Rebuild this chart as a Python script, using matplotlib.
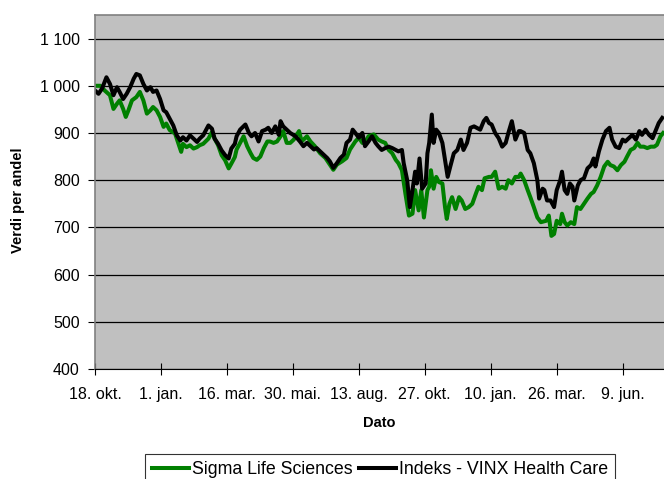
import pandas as pd
import matplotlib
matplotlib.use('Agg')
import matplotlib.pyplot as plt

plt.rcParams['font.family'] = ['Liberation Sans', 'DejaVu Sans']

# days counted from 18. okt. 2007
start = pd.Timestamp('2007-10-18')

sigma_days = [0, 6, 11, 17, 21, 25, 28, 32, 35, 38, 42, 47, 51, 55, 59, 63, 66, 70, 74, 78,
              81, 85, 91, 95, 98, 100, 104, 108, 112, 116, 119, 123, 129, 133, 136, 140, 144, 148, 152, 155,
              159, 161, 165, 169, 173, 177, 180, 184, 188, 192, 196, 199, 203, 207, 211, 214, 218, 222, 226, 232,
              235, 241, 245, 250, 256, 262, 267, 271, 275, 281, 286, 290, 296, 300, 304, 307, 311, 317, 322,
              326, 330, 334, 338, 342, 345, 349, 353, 357, 361, 364, 368, 371, 374, 378, 380, 382, 385, 388, 391,
              395, 398, 400, 403, 406, 410, 414, 417, 421, 425, 429, 433, 436, 440, 443, 448, 451, 455, 459, 463,
              467, 470, 474, 478, 482, 484, 488, 492, 495, 499, 503, 507, 513, 516, 519, 522, 525, 529, 531, 534,
              537, 541, 545, 548, 552, 556, 560, 564, 567, 571, 575, 579, 583, 586, 590, 594, 598, 602, 605, 609,
              613, 617, 620, 624, 628, 632, 636, 639, 643, 646]
sigma_vals = [1000, 1000, 990, 980, 951, 962, 969, 951, 934, 948, 969, 976, 987, 969, 941, 948, 955, 948, 934, 913,
              920, 906, 899, 877, 860, 877, 870, 874, 867, 870, 874, 877, 888, 902, 888, 874, 853, 842, 825, 835,
              849, 865, 879, 893, 872, 857, 847, 843, 850, 868, 882, 882, 879, 882, 893, 904, 879, 879, 886, 904,
              882, 893, 882, 872, 857, 847, 833, 822, 833, 840, 847, 865, 882, 890, 879, 879, 893, 897, 886,
              882, 879, 864, 857, 843, 836, 821, 771, 725, 729, 779, 736, 779, 721, 779, 786, 821, 782, 807, 796,
              793, 743, 718, 750, 764, 739, 764, 757, 739, 743, 750, 771, 786, 779, 804, 807, 807, 818, 782, 786,
              782, 800, 793, 807, 807, 814, 800, 779, 764, 743, 721, 711, 714, 725, 682, 686, 714, 707, 729, 711,
              704, 711, 707, 743, 739, 750, 761, 771, 775, 789, 807, 829, 839, 832, 829, 821, 832, 839, 850, 864,
              868, 879, 871, 871, 868, 871, 871, 875, 893, 900]

index_days = [0, 4, 8, 13, 17, 21, 25, 28, 32, 36, 40, 44, 47, 51, 55, 59, 63, 66, 70, 74,
              78, 81, 85, 89, 93, 97, 100, 104, 108, 112, 116, 119, 123, 129, 133, 136, 140, 144, 148, 152,
              155, 159, 161, 165, 171, 175, 178, 182, 186, 190, 194, 197, 201, 205, 209, 211, 214, 218, 222, 228,
              233, 237, 241, 245, 249, 252, 256, 260, 264, 267, 271, 275, 279, 283, 286, 290, 293, 296, 300, 304,
              307, 311, 315, 319, 322, 326, 330, 334, 338, 342, 345, 349, 351, 355, 358, 361, 364, 366, 369, 372,
              376, 378, 380, 383, 385, 388, 391, 395, 398, 401, 404, 408, 412, 416, 419, 423, 427, 431, 434, 438,
              442, 445, 448, 451, 455, 459, 463, 467, 470, 474, 478, 482, 484, 488, 492, 495, 499, 503, 505, 509,
              511, 514, 518, 522, 525, 529, 531, 534, 537, 540, 543, 545, 549, 552, 556, 560, 564, 567, 569, 573,
              577, 581, 585, 588, 592, 596, 600, 603, 607, 611, 615, 619, 622, 626, 630, 634, 638, 641, 645]
index_vals = [990, 983, 994, 1018, 1004, 980, 997, 987, 972, 983, 997, 1015, 1025, 1022, 1004, 990, 997, 987, 990, 972,
              948, 944, 930, 916, 895, 884, 891, 884, 895, 888, 881, 888, 895, 916, 909, 888, 877, 863, 853, 846,
              867, 877, 893, 907, 918, 900, 893, 900, 882, 904, 907, 911, 900, 914, 896, 925, 914, 907, 900, 893,
              882, 872, 879, 872, 865, 868, 861, 854, 847, 840, 826, 836, 847, 854, 879, 886, 907, 900, 890, 900,
              872, 882, 893, 879, 872, 864, 868, 871, 868, 864, 861, 864, 836, 800, 743, 779, 818, 793, 846, 782,
              793, 857, 879, 939, 879, 907, 900, 879, 843, 807, 829, 857, 864, 886, 864, 879, 911, 914, 911, 907,
              925, 932, 921, 918, 900, 889, 871, 879, 900, 925, 886, 904, 904, 900, 864, 857, 836, 800, 761, 782,
              779, 757, 757, 743, 779, 800, 818, 779, 771, 793, 786, 757, 789, 800, 804, 825, 832, 846, 829, 861,
              886, 904, 911, 886, 871, 868, 886, 882, 889, 896, 886, 904, 896, 907, 896, 889, 907, 921, 932]

tick_dates = ['2007-10-18', '2008-01-01', '2008-03-16', '2008-05-30', '2008-08-13',
              '2008-10-27', '2009-01-10', '2009-03-26', '2009-06-09']
tick_labels = ['18. okt.', '1. jan.', '16. mar.', '30. mai.', '13. aug.',
               '27. okt.', '10. jan.', '26. mar.', '9. jun.']
y_ticks = [400, 500, 600, 700, 800, 900, 1000, 1100]
y_labels = ['400', '500', '600', '700', '800', '900', '1 000', '1 100']

sigma_x = start + pd.to_timedelta(sigma_days, unit='D')
index_x = start + pd.to_timedelta(index_days, unit='D')

fig = plt.figure(figsize=(6.64, 4.79), dpi=100)
ax = fig.add_axes([95/664, 1 - 369/479, 1 - 95/664, (369 - 14.5)/479])
ax.set_facecolor('#c0c0c0')

ax.plot(sigma_x, sigma_vals, color='#008000', lw=2.9, label='Sigma Life Sciences')
ax.plot(index_x, index_vals, color='black', lw=2.9, label='Indeks - VINX Health Care')

ax.set_xlim(start, start + pd.Timedelta(days=647))
ax.set_ylim(400, 1151)

ax.set_yticks(y_ticks)
ax.set_yticklabels(y_labels, fontsize=11.5)
ax.set_xticks(pd.to_datetime(tick_dates))
ax.set_xticklabels(tick_labels, fontsize=11.5)
ax.tick_params(axis='y', direction='out', length=5, width=0.8, pad=6)
ax.tick_params(axis='x', direction='inout', length=8, width=0.8, pad=9)

ax.yaxis.grid(True, color='black', lw=0.9)
ax.set_axisbelow(True)
ax.spines['right'].set_visible(False)
ax.spines['top'].set_color('#808080')
ax.spines['left'].set_color('#808080')
ax.spines['top'].set_linewidth(1.2)
ax.spines['left'].set_linewidth(1.2)
ax.spines['bottom'].set_color('black')

fig.text(379.5/664, 1 - 423/479, 'Dato', fontsize=10.5, fontweight='bold', ha='center', va='center')
fig.text(18/664, 1 - 200/479, 'Verdi per andel', fontsize=10.5, fontweight='bold',
         rotation=90, ha='center', va='center')

leg = ax.legend(loc='upper left', bbox_to_anchor=(145/664, 1 - 453.7/479), bbox_transform=fig.transFigure,
                ncol=2, fontsize=12.8, frameon=True, fancybox=False, edgecolor='black',
                handlelength=2.1, handletextpad=0.15, columnspacing=0.35, borderpad=0.4, borderaxespad=0)
leg.get_frame().set_linewidth(0.8)

fig.savefig('out.png', dpi=100)
